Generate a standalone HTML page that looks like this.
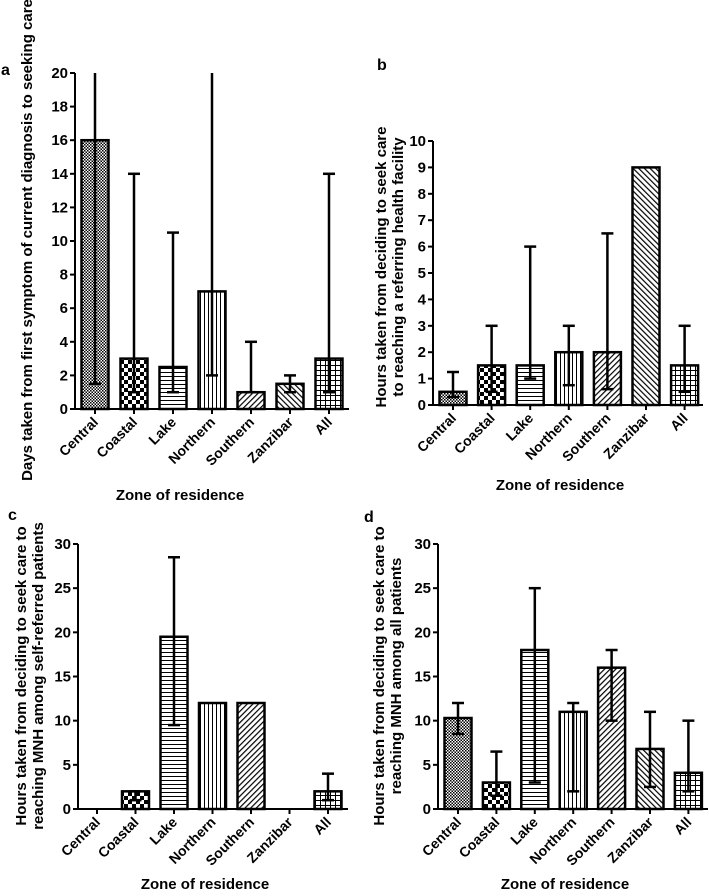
<!DOCTYPE html>
<html><head><meta charset="utf-8"><style>
body{margin:0;background:#fff;width:709px;height:891px;overflow:hidden}
svg{font-family:"Liberation Sans",Arial,sans-serif;font-weight:bold}
</style></head><body>
<svg id="s" width="709" height="891" viewBox="0 0 709 891">
<defs>
<pattern id="p0" width="3" height="3" patternUnits="userSpaceOnUse"><rect width="3" height="3" fill="#fff"/><rect width="1.5" height="1.5" fill="#000"/><rect x="1.5" y="1.5" width="1.5" height="1.5" fill="#000"/></pattern>
<pattern id="p1" width="8" height="8" patternUnits="userSpaceOnUse"><rect width="8" height="8" fill="#fff"/><rect width="4" height="4" fill="#000"/><rect x="4" y="4" width="4" height="4" fill="#000"/></pattern>
<pattern id="p2" width="4" height="4" patternUnits="userSpaceOnUse"><rect width="4" height="4" fill="#fff"/><rect width="4" height="1" fill="#000"/></pattern>
<pattern id="p3" width="4" height="4" patternUnits="userSpaceOnUse"><rect width="4" height="4" fill="#fff"/><rect width="1" height="4" fill="#000"/></pattern>
<pattern id="p4" width="4" height="4" patternUnits="userSpaceOnUse" patternTransform="rotate(45)"><rect width="4" height="4" fill="#fff"/><rect width="1.2" height="4" fill="#000"/></pattern>
<pattern id="p5" width="4" height="4" patternUnits="userSpaceOnUse" patternTransform="rotate(-45)"><rect width="4" height="4" fill="#fff"/><rect width="1.2" height="4" fill="#000"/></pattern>
<pattern id="p6" width="5" height="5" patternUnits="userSpaceOnUse"><rect width="5" height="5" fill="#fff"/><rect width="5" height="1" fill="#000"/><rect width="1" height="5" fill="#000"/></pattern>
</defs>
</svg>
<script>
const categories=["Central","Coastal","Lake","Northern","Southern","Zanzibar","All"];
const valuesA=[16,3,2.5,7,1,1.5,3];
const lowA=[1.5,1,1,2,1,1,1];
const highA=[20,14,10.5,20,4,2,14];
const valuesB=[0.5,1.5,1.5,2,2,9,1.5];
const lowB=[0.3,0.5,1,0.75,0.6,null,0.5];
const highB=[1.25,3,6,3,6.5,null,3];
const valuesC=[0,2,19.5,12,12,0,2];
const lowC=[null,1,9.5,null,null,null,1];
const highC=[null,2,28.5,null,null,null,4];
const valuesD=[10.3,3,18,11,16,6.8,4.1];
const lowD=[8.5,1.5,3,2,10,2.5,2];
const highD=[12,6.5,25,12,18,11,10];
const ticksA=[0,2,4,6,8,10,12,14,16,18,20];
const ticksB=[0,1,2,3,4,5,6,7,8,9,10];
const ticksC=[0,5,10,15,20,25,30];
const ticksD=[0,5,10,15,20,25,30];
const svg=document.getElementById('s');
const NS='http://www.w3.org/2000/svg';
function mk(tag,at,parent,txt){const e=document.createElementNS(NS,tag);for(const k in at)e.setAttribute(k,at[k]);if(txt!==undefined)e.textContent=txt;(parent||svg).appendChild(e);return e;}
function panel(cfg){
  const g=mk('g',{});
  
  
  const {ax,y0,yTop,xEnd,ymax,c0,step,vals,lo,hi,ticks}=cfg;
  const ys=v=>y0-(v/ymax)*(y0-yTop);
  const xs=i=>c0+i*step;
  const bw=27;
  vals.forEach((v,i)=>{
    if(v>0){const r=mk('rect',{x:xs(i)-bw/2,y:ys(v),width:bw,height:y0-ys(v),fill:'url(#p'+i+')',stroke:'#000','stroke-width':2.5},g);
    
    }
    if(hi[i]!=null){const eg=mk('g',{stroke:'#000','stroke-width':2.5},g);
      
      
      mk('line',{x1:xs(i),x2:xs(i),y1:ys(lo[i]),y2:ys(hi[i])},eg);
      if(hi[i]<ymax)mk('line',{x1:xs(i)-6,x2:xs(i)+6,y1:ys(hi[i]),y2:ys(hi[i])},eg);
      mk('line',{x1:xs(i)-6,x2:xs(i)+6,y1:ys(lo[i]),y2:ys(lo[i])},eg);}
  });
  const axg=mk('g',{stroke:'#000','stroke-width':2},g);
  
  
  mk('line',{x1:ax,x2:ax,y1:yTop,y2:y0+1},axg);
  mk('line',{x1:ax,x2:xEnd,y1:y0,y2:y0},axg);
  ticks.forEach(t=>{mk('line',{x1:ax-5,x2:ax,y1:ys(t),y2:ys(t)},axg);
    const tl=mk('text',{x:ax-7,y:ys(t)+5,'text-anchor':'end','font-size':15},g,String(t));
    
    });
  categories.forEach((c,i)=>{mk('line',{x1:xs(i),x2:xs(i),y1:y0,y2:y0+5},axg);
    const t=mk('text',{x:xs(i)+4,y:y0+14,'text-anchor':'end','font-size':14,transform:`rotate(-45 ${xs(i)+4} ${y0+14})`},g,c);
    
    });
  const xt=mk('text',{x:cfg.xtx,y:cfg.xty,'text-anchor':'middle','font-size':15},g,'Zone of residence');
  
  
  const yt=mk('text',{'text-anchor':'middle','font-size':15,transform:`translate(${cfg.ytx} ${cfg.yty}) rotate(-90)`},g);
  
  
  cfg.ytitle.forEach((l,k)=>mk('tspan',{x:0,dy:k?17:0},yt,l));
  const pl=mk('text',{x:cfg.lx,y:cfg.ly,'font-size':16},g,cfg.id);
  
  
}
panel({id:'a',ax:75,y0:409,yTop:73,xEnd:349,ymax:20,c0:95,step:39,vals:valuesA,lo:lowA,hi:highA,ticks:ticksA,xtx:180,xty:500,ytx:32,yty:240,ytitle:['Days taken from first symptom of current diagnosis to seeking care'],lx:1,ly:75});
panel({id:'b',ax:433,y0:405,yTop:141,xEnd:703,ymax:10,c0:453,step:38.6,vals:valuesB,lo:lowB,hi:highB,ticks:ticksB,xtx:560,xty:490,ytx:386,yty:267,ytitle:['Hours taken from deciding to seek care','to reaching a referring health facility'],lx:377,ly:70});
panel({id:'c',ax:78,y0:809,yTop:544,xEnd:348,ymax:30,c0:97,step:38.5,vals:valuesC,lo:lowC,hi:highC,ticks:ticksC,xtx:205,xty:889,ytx:26,yty:676,ytitle:['Hours taken from deciding to seek care to','reaching MNH among self-referred patients'],lx:8,ly:520});
panel({id:'d',ax:438,y0:809,yTop:544,xEnd:708,ymax:30,c0:458,step:38.4,vals:valuesD,lo:lowD,hi:highD,ticks:ticksD,xtx:565,xty:889,ytx:384,yty:676,ytitle:['Hours taken from deciding to seek care to','reaching MNH among all patients'],lx:364,ly:522});
</script>
</body></html>
